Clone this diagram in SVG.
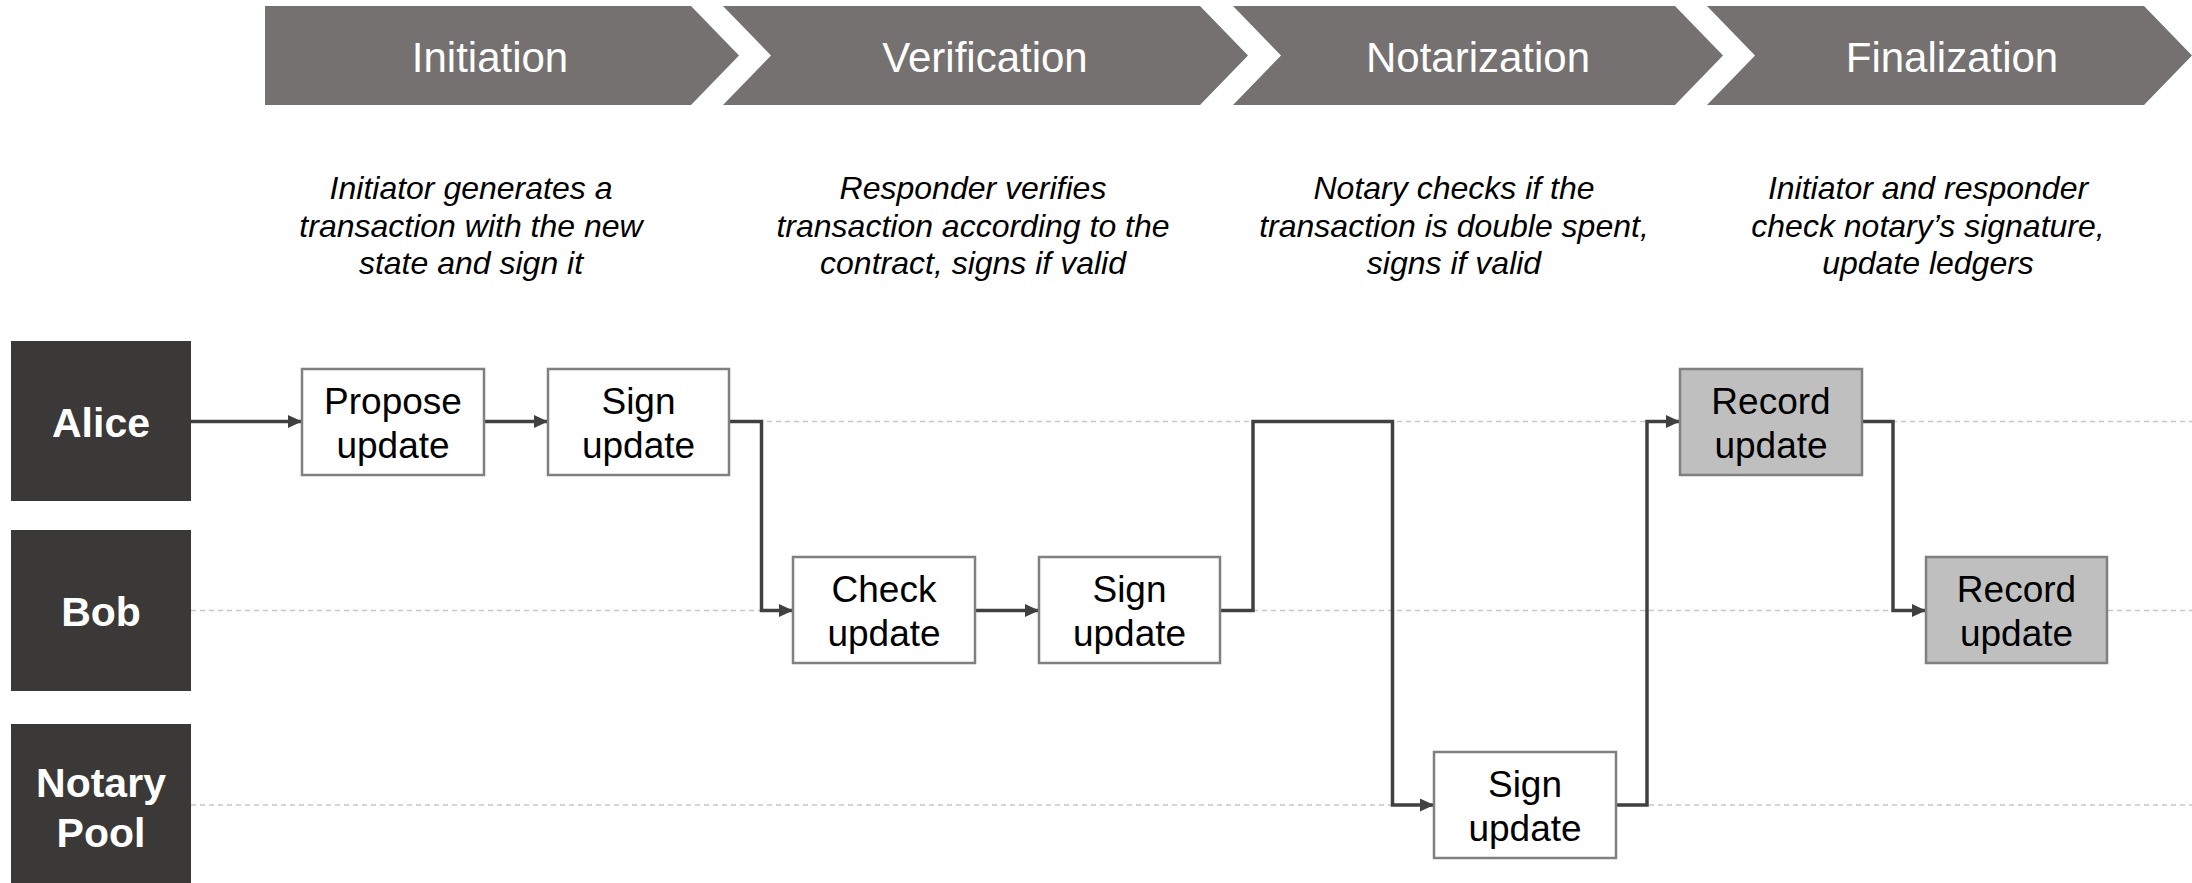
<svg xmlns="http://www.w3.org/2000/svg" width="2192" height="883" viewBox="0 0 2192 883">
<style>
.chev{fill:#767171}
.title{font-family:"Liberation Sans",Arial,sans-serif;font-size:42px;fill:#ffffff;text-anchor:middle}
.desc{font-family:"Liberation Sans",Arial,sans-serif;font-size:32px;font-style:italic;fill:#000000;text-anchor:middle}
.lane{fill:#3b3838}
.lanetxt{font-family:"Liberation Sans",Arial,sans-serif;font-size:41px;font-weight:bold;fill:#ffffff;text-anchor:middle}
.guide{stroke:#c8c8c8;stroke-width:1.5;stroke-dasharray:5 4;fill:none}
.box{fill:#ffffff;stroke:#808080;stroke-width:2.5}
.rec{fill:#bfbfbf;stroke:#808080;stroke-width:2.5}
.btxt{font-family:"Liberation Sans",Arial,sans-serif;font-size:37px;fill:#000000;text-anchor:middle}
.conn{stroke:#404040;stroke-width:3.5;fill:none;marker-end:url(#arr)}
</style>
<defs>
<marker id="arr" markerUnits="userSpaceOnUse" markerWidth="15" markerHeight="14" refX="14" refY="6.5" orient="auto">
<path d="M0,0 L14,6.5 L0,13 z" fill="#404040"/>
</marker>
</defs>

<g id="phases">
<g id="phase-initiation">
<polygon class="chev" points="265,6 691,6 739,55.5 691,105 265,105"/>
<text class="title" x="490" y="72">Initiation</text>
</g>
<g id="phase-verification">
<polygon class="chev" points="723,6 1200,6 1248,55.5 1200,105 723,105 771,55.5"/>
<text class="title" x="985" y="72">Verification</text>
</g>
<g id="phase-notarization">
<polygon class="chev" points="1233,6 1675,6 1723,55.5 1675,105 1233,105 1281,55.5"/>
<text class="title" x="1478" y="72">Notarization</text>
</g>
<g id="phase-finalization">
<polygon class="chev" points="1707,6 2144,6 2192,55.5 2144,105 1707,105 1755,55.5"/>
<text class="title" x="1952" y="72">Finalization</text>
</g>
</g>

<g id="descriptions">
<text class="desc" x="471" y="199">Initiator generates a</text>
<text class="desc" x="471" y="236.5">transaction with the new</text>
<text class="desc" x="471" y="274">state and sign it</text>
<text class="desc" x="973" y="199">Responder verifies</text>
<text class="desc" x="973" y="236.5">transaction according to the</text>
<text class="desc" x="973" y="274">contract, signs if valid</text>
<text class="desc" x="1454" y="199">Notary checks if the</text>
<text class="desc" x="1454" y="236.5">transaction is double spent,</text>
<text class="desc" x="1454" y="274">signs if valid</text>
<text class="desc" x="1928" y="199">Initiator and responder</text>
<text class="desc" x="1928" y="236.5">check notary’s signature,</text>
<text class="desc" x="1928" y="274">update ledgers</text>
</g>

<g id="guides">
<line class="guide" x1="191" y1="421.5" x2="2192" y2="421.5"/>
<line class="guide" x1="191" y1="610.5" x2="2192" y2="610.5"/>
<line class="guide" x1="191" y1="805" x2="2192" y2="805"/>
</g>

<g id="lane-alice">
<rect class="lane" x="11" y="341" width="180" height="160"/>
<text class="lanetxt" x="101" y="437">Alice</text>
</g>
<g id="lane-bob">
<rect class="lane" x="11" y="530" width="180" height="161"/>
<text class="lanetxt" x="101" y="626">Bob</text>
</g>
<g id="lane-notary">
<rect class="lane" x="11" y="724" width="180" height="165"/>
<text class="lanetxt" x="101" y="797">Notary</text>
<text class="lanetxt" x="101" y="847">Pool</text>
</g>

<g id="connectors">
<path class="conn" d="M191,421.5 H302"/>
<path class="conn" d="M484,421.5 H548"/>
<path class="conn" d="M729,421.5 H761.5 V610.5 H793"/>
<path class="conn" d="M975,610.5 H1039"/>
<path class="conn" d="M1220,610.5 H1253 V421.5 H1392.5 V805 H1434"/>
<path class="conn" d="M1616,805 H1647 V421.5 H1680"/>
<path class="conn" d="M1862,421.5 H1893 V610.5 H1926"/>
</g>

<g id="node-propose">
<rect class="box" x="302" y="369" width="182" height="106"/>
<text class="btxt" x="393" y="413.5">Propose</text>
<text class="btxt" x="393" y="457.5">update</text>
</g>
<g id="node-alice-sign">
<rect class="box" x="548" y="369" width="181" height="106"/>
<text class="btxt" x="638.5" y="413.5">Sign</text>
<text class="btxt" x="638.5" y="457.5">update</text>
</g>
<g id="node-check">
<rect class="box" x="793" y="557" width="182" height="106"/>
<text class="btxt" x="884" y="601.5">Check</text>
<text class="btxt" x="884" y="645.5">update</text>
</g>
<g id="node-bob-sign">
<rect class="box" x="1039" y="557" width="181" height="106"/>
<text class="btxt" x="1129.5" y="601.5">Sign</text>
<text class="btxt" x="1129.5" y="645.5">update</text>
</g>
<g id="node-notary-sign">
<rect class="box" x="1434" y="752" width="182" height="106"/>
<text class="btxt" x="1525" y="796.5">Sign</text>
<text class="btxt" x="1525" y="840.5">update</text>
</g>
<g id="node-alice-record">
<rect class="rec" x="1680" y="369" width="182" height="106"/>
<text class="btxt" x="1771" y="413.5">Record</text>
<text class="btxt" x="1771" y="457.5">update</text>
</g>
<g id="node-bob-record">
<rect class="rec" x="1926" y="557" width="181" height="106"/>
<text class="btxt" x="2016.5" y="601.5">Record</text>
<text class="btxt" x="2016.5" y="645.5">update</text>
</g>
</svg>
